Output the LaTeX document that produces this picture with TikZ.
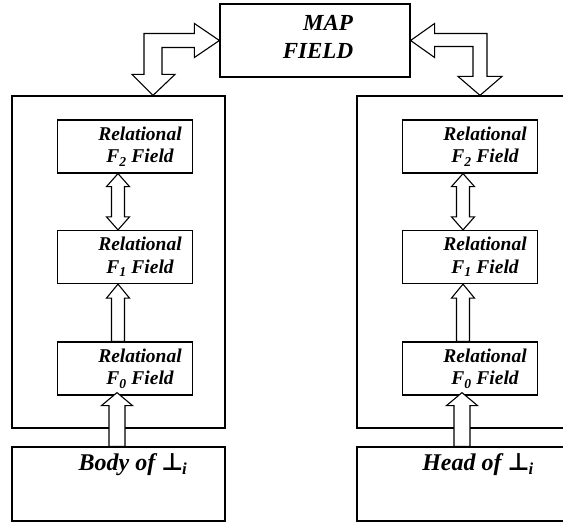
\documentclass[tikz,border=0pt]{standalone}
\usepackage{fontspec}
\setmainfont{Liberation Serif}
\newfontfamily\perpfont{DejaVu Sans}
\usetikzlibrary{calc}
\tikzset{
	box/.style      = {draw, line width = 1.2pt, inner sep = 0pt},
	frame/.style    = {box, minimum width = 213pt, minimum height = 332pt},
	field/.style    = {box, minimum width = 135pt, minimum height = 53pt},
	source/.style   = {box, minimum width = 213pt, minimum height = 74pt},
	fieldtxt/.style = {align = center, inner sep = 0pt,
		font = \fontsize{19.5}{22.5}\selectfont\bfseries\itshape},
	maptxt/.style   = {align = center, inner sep = 0pt,
		font = \fontsize{23}{28}\selectfont\bfseries\itshape},
	srctxt/.style   = {inner sep = 0pt,
		font = \fontsize{24}{28}\selectfont\bfseries\itshape},
	blk/.style      = {draw, fill = white, line width = 1.1pt, line join = miter}
}
\newcommand\perpi{{\perpfont\upshape\bfseries ⊥}\textsubscript{\kern-1pt i}}

\begin{document}
\begin{tikzpicture}[x = 1pt, y = 1pt]
	\useasboundingbox (0,0) rectangle (563,523);
	% map field on top
	\node(map) [box, minimum width = 190pt, minimum height = 73pt] at (315,482.5) {};
	\node(maptext) [maptxt] at ($(map.center)+(3,4)$) {\hspace*{20pt}MAP\\FIELD};
	\foreach \s/\c/\w in {L/118.5/Body, R/463.5/Head} {
		% frame with the three relational fields
		\node(frame\s) [frame] at (\c,261) {};
		\node(f2\s) [field] at (\c+6.5,376.5) {};
		\node(f1\s) [field] at (\c+6.5,266) {};
		\node(f0\s) [field] at (\c+6.5,154.5) {};
		\foreach \k in {0,1,2}
		\node(t\k\s) [fieldtxt] at ($(f\k\s.center)+(15,0)$) {Relational\\F\textsubscript{\k} Field};
		% body / head box
		\node(src\s) [source] at (\c,39) {};
		\node(srctext\s) [srctxt] at ($(src\s.center)+(14.5,19)$) {\w\ of \perpi};
		% F0 -> F1
		\draw[blk] let \p1 = ($(f1\s.south)+(-7,0)$), \p2 = (f0\s.north) in
		(\p1) -- (\x1+11.5pt,\y1-14pt) -- (\x1+6.5pt,\y1-14pt) -- (\x1+6.5pt,\y2) --
		(\x1-6.5pt,\y2) -- (\x1-6.5pt,\y1-14pt) -- (\x1-11.5pt,\y1-14pt) -- cycle;
		% F1 <-> F2
		\draw[blk] let \p1 = ($(f2\s.south)+(-7,0)$), \p2 = ($(f1\s.north)+(-7,0)$) in
		(\p1) -- (\x1+11.5pt,\y1-13pt) -- (\x1+6.5pt,\y1-13pt) -- (\x1+6.5pt,\y2+13pt) --
		(\x1+11.5pt,\y2+13pt) -- (\p2) -- (\x1-11.5pt,\y2+13pt) -- (\x1-6.5pt,\y2+13pt) --
		(\x1-6.5pt,\y1-13pt) -- (\x1-11.5pt,\y1-13pt) -- cycle;
		% source -> F0
		\draw[blk] let \p1 = ($(f0\s.south)+(-8,3)$), \p2 = (src\s.north) in
		(\p1) -- (\x1+15.5pt,\y1-13pt) -- (\x1+8pt,\y1-13pt) -- (\x1+8pt,\y2) --
		(\x1-8pt,\y2) -- (\x1-8pt,\y1-13pt) -- (\x1-15.5pt,\y1-13pt) -- cycle;
	}
	% elbow arrows between map field and frames
	\draw[blk] let \p1 = (map.west), \p2 = ($(frameL.north)+(34.5,0)$) in
	(\p1) -- (\x1-25pt,\y1+17pt) -- (\x1-25pt,\y1+7pt) -- (\x2-9pt,\y1+7pt) --
	(\x2-9pt,\y2+21pt) -- (\x2-21pt,\y2+21pt) -- (\p2) -- (\x2+22pt,\y2+21pt) --
	(\x2+9pt,\y2+21pt) -- (\x2+9pt,\y1-7pt) -- (\x1-25pt,\y1-7pt) -- (\x1-25pt,\y1-17pt) -- cycle;
	\draw[blk] let \p1 = (map.east), \p2 = ($(frameR.north)+(16.5,0)$) in
	(\p1) -- (\x1+24pt,\y1+17pt) -- (\x1+24pt,\y1+7pt) -- (\x2+7pt,\y1+7pt) --
	(\x2+7pt,\y2+19pt) -- (\x2+22pt,\y2+19pt) -- (\p2) -- (\x2-22pt,\y2+19pt) --
	(\x2-7pt,\y2+19pt) -- (\x2-7pt,\y1-6pt) -- (\x1+24pt,\y1-6pt) -- (\x1+24pt,\y1-17pt) -- cycle;
\end{tikzpicture}
\end{document}
